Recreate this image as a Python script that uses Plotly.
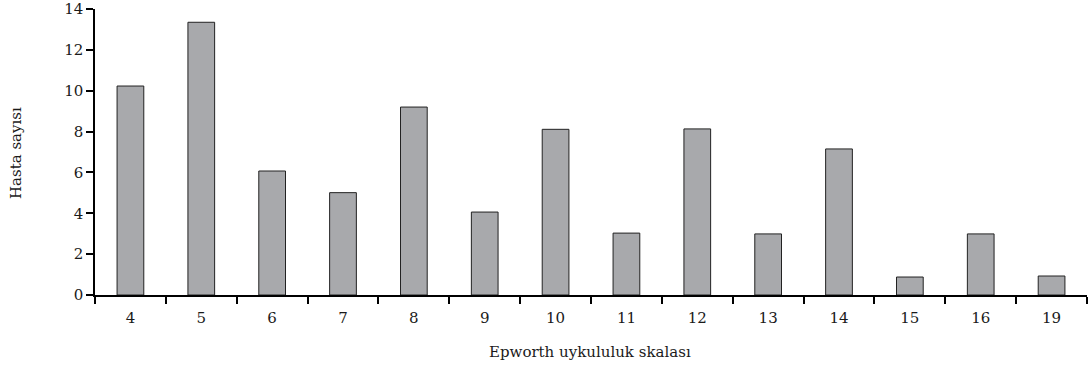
import plotly.graph_objects as go

categories = ["4", "5", "6", "7", "8", "9", "10", "11", "12", "13", "14", "15", "16", "19"]
patients = [10.23, 13.35, 6.07, 5.01, 9.2, 4.06, 8.11, 3.03, 8.13, 2.99, 7.15, 0.88, 2.99, 0.93]
y_ticks = [0, 2, 4, 6, 8, 10, 12, 14]

FONT = "DejaVu Serif"
TXT = "#1a1a1a"

fig = go.Figure(
    go.Bar(
        x=categories,
        y=patients,
        width=0.377,
        marker=dict(color="#a8a9ac", line=dict(color="#222222", width=1)),
    )
)

fig.update_layout(
    width=1091,
    height=369,
    margin=dict(l=95, r=4, t=9, b=74, autoexpand=False),
    paper_bgcolor="white",
    plot_bgcolor="white",
    showlegend=False,
    font=dict(family=FONT, size=15, color=TXT),
    annotations=[
        dict(
            text="Hasta sayısı", xref="paper", yref="paper",
            x=-0.0796, y=0.4965, showarrow=False, textangle=-90,
            xanchor="center", yanchor="middle",
            font=dict(family=FONT, size=15, color=TXT),
        ),
        dict(
            text="Epworth uykululuk skalası", xref="paper", yref="paper",
            x=0.499, y=-0.199, showarrow=False,
            xanchor="center", yanchor="middle",
            font=dict(family=FONT, size=15, color=TXT),
        ),
    ],
)

fig.update_xaxes(
    type="category",
    automargin=False,
    showline=True, linecolor="black", linewidth=1.5,
    ticks="outside", ticklen=7, tickwidth=1.5, tickcolor="black",
    tickson="boundaries",
    ticklabelstandoff=8,
    showgrid=False, zeroline=False,
    tickfont=dict(family=FONT, size=15, color=TXT),
)

fig.update_yaxes(
    range=[0, 14],
    automargin=False,
    tickvals=y_ticks,
    showline=True, linecolor="black", linewidth=1.5,
    ticks="outside", ticklen=7, tickwidth=1.5, tickcolor="black",
    showgrid=False, zeroline=False,
    tickfont=dict(family=FONT, size=15, color=TXT),
)

fig.write_html(
    "out.html",
    config={"displayModeBar": False},
    post_script="document.body.style.margin='0';",
)
